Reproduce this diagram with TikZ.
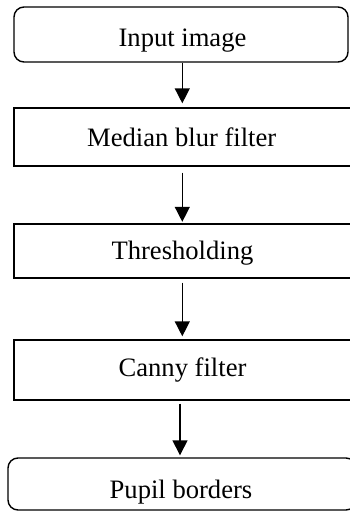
\documentclass[tikz,border=0pt]{standalone}
\usepackage{fontspec}
\setmainfont{Liberation Serif}
\usetikzlibrary{arrows.meta}
\begin{document}
\begin{tikzpicture}[x=1pt,y=-1pt,
  boxs/.style={draw,line width=1.4pt,inner sep=0pt,rectangle},
  rbox/.style={boxs,rounded corners=10pt},
  lbl/.style={anchor=base,inner sep=0pt,font=\fontsize{26.6}{30}\selectfont},
  arr/.style={line width=1.4pt,-{Triangle[width=15pt,length=15pt]}}]
\useasboundingbox (0,0) rectangle (349,511);
% boxes
\node[rbox,minimum width=334pt,minimum height=55pt] (b1) at (181,34.5) {};
\node[boxs,minimum width=338pt,minimum height=58pt] (b2) at (183,137) {};
\node[boxs,minimum width=338pt,minimum height=54pt] (b3) at (183,251) {};
\node[boxs,minimum width=338pt,minimum height=60pt] (b4) at (183,370) {};
\node[rbox,minimum width=348pt,minimum height=52pt] (b5) at (182,484) {};
% labels
\node[lbl] (t1) at (182.5,46.7) {Input image};
\node[lbl] (t2) at (181.7,146.7) {Median blur filter};
\node[lbl] (t3) at (182.5,259.3) {Thresholding};
\node[lbl] (t4) at (182.5,376.7) {Canny filter};
\node[lbl] (t5) at (181,498) {Pupil borders};
% arrows
\coordinate (ax) at (182.3,0);
\coordinate (ay) at (180,0);
\draw[arr,shorten >=4pt] (b1.south -| ax) -- (b2.north -| ax);
\draw[arr,shorten <=6pt,shorten >=1.5pt] (b2.south -| ax) -- (b3.north -| ax);
\draw[arr,shorten <=4pt,shorten >=3pt] (b3.south -| ax) -- (b4.north -| ax);
\draw[arr,shorten <=3pt,shorten >=2pt] (b4.south -| ay) -- (b5.north -| ay);
\end{tikzpicture}
\end{document}
